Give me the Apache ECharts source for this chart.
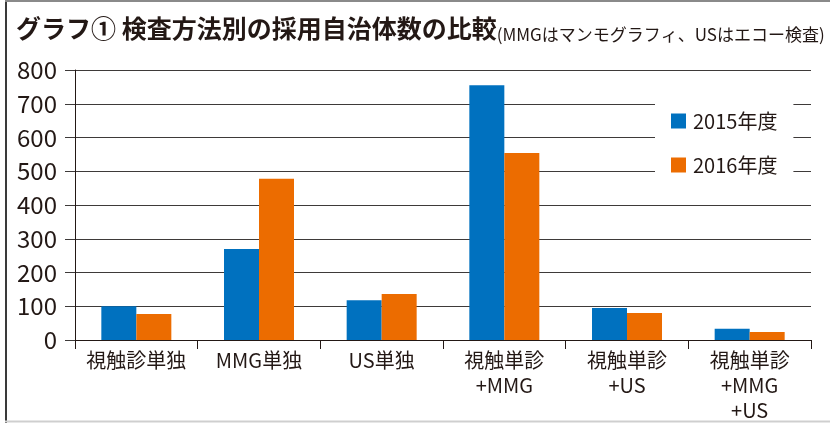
<!DOCTYPE html>
<html>
<head>
<meta charset="utf-8">
<script src="https://cdn.jsdelivr.net/npm/echarts@6/dist/echarts.min.js"></script>
<style>
html,body{margin:0;padding:0;background:#fff;}
#chart{width:830px;height:423px;}
</style>
</head>
<body>
<div id="chart"></div>
<script>
const titleMain = 'グラフ① 検査方法別の採用自治体数の比較';
const titleSub = '(MMGはマンモグラフィ、USはエコー検査)';
const categories = ['視触診単独', 'MMG単独', 'US単独', '視触単診\n+MMG', '視触単診\n+US', '視触単診\n+MMG\n+US'];
const seriesNames = ['2015年度', '2016年度'];
const values2015 = [100, 270, 118, 755, 95, 33];
const values2016 = [77, 478, 136, 554, 80, 24];
const yTicks = [0, 800, 100]; // min, max, interval

const FONT = '"Noto Sans CJK JP", "Noto Sans", sans-serif';
const TXT = '#231815';

const chart = echarts.init(document.getElementById('chart'), null, {renderer: 'canvas'});
chart.setOption({
  backgroundColor: '#ffffff',
  animation: false,
  title: {
    left: 16, top: 13, padding: 0,
    text: '{a|' + titleMain + '}{b|' + titleSub + '}',
    textStyle: {
      fontFamily: FONT, fontWeight: 'normal',
      rich: {
        a: {fontSize: 25, fontWeight: 'bold', color: TXT, fontFamily: FONT, lineHeight: 30},
        b: {fontSize: 17, fontWeight: 'normal', color: TXT, fontFamily: FONT, lineHeight: 26, verticalAlign: 'bottom', padding: [0, 0, 0, 0]}
      }
    }
  },
  graphic: [
    {type: 'line', shape: {x1: 6, y1: 0, x2: 6, y2: 423}, style: {stroke: '#3a3a3a', lineWidth: 2}, silent: true},
    {type: 'line', shape: {x1: 5, y1: 1, x2: 830, y2: 1}, style: {stroke: '#8a8a8a', lineWidth: 2}, silent: true},
    {type: 'line', shape: {x1: 5, y1: 421.5, x2: 830, y2: 421.5}, style: {stroke: '#cfcfcf', lineWidth: 2}, silent: true}
  ],
  legend: {
    orient: 'vertical',
    left: 655, top: 97,
    padding: [14, 16],
    backgroundColor: '#ffffff',
    itemWidth: 15, itemHeight: 15, itemGap: 24,
    icon: 'rect',
    textStyle: {fontSize: 20, fontFamily: FONT, color: TXT, padding: [0, 0, 0, 2]},
    data: seriesNames,
    z: 10
  },
  grid: {left: 75, right: 19, top: 70, bottom: 83, containLabel: false},
  xAxis: {
    type: 'category',
    data: categories,
    axisLine: {lineStyle: {color: TXT, width: 1}},
    axisTick: {show: true, length: 9, lineStyle: {color: TXT}},
    axisLabel: {interval: 0, fontSize: 20, lineHeight: 25, fontFamily: FONT, color: TXT, margin: 8}
  },
  yAxis: {
    type: 'value',
    min: yTicks[0], max: yTicks[1], interval: yTicks[2],
    axisLine: {show: true, lineStyle: {color: TXT, width: 1}},
    axisTick: {show: true, length: 10, lineStyle: {color: '#3e3a39'}},
    axisLabel: {fontSize: 24, fontFamily: FONT, color: TXT, margin: 18},
    splitLine: {show: true, lineStyle: {color: '#3e3a39', width: 1}}
  },
  series: [
    {name: seriesNames[0], type: 'bar', data: values2015, barWidth: 35, barGap: '0%', itemStyle: {color: '#0071bf'}},
    {name: seriesNames[1], type: 'bar', data: values2016, barWidth: 35, barGap: '0%', itemStyle: {color: '#ec6c00'}}
  ]
});
</script>
</body>
</html>
